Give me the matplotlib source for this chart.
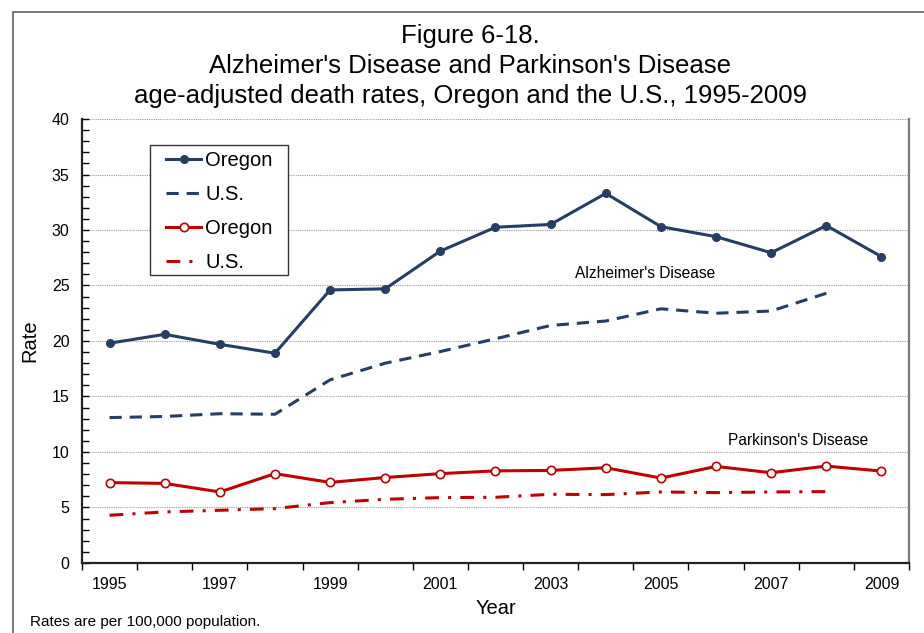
import matplotlib
matplotlib.use('Agg')
import matplotlib.pyplot as plt
from matplotlib.patches import Rectangle
from matplotlib.ticker import MultipleLocator, FixedLocator


plt.rcParams['font.family'] = ['Liberation Sans', 'DejaVu Sans']

YEARS = list(range(1995, 2010))
YEARS_US = list(range(1995, 2009))

ALZ_OREGON = [19.8, 20.6, 19.7, 18.9, 24.6, 24.7, 28.1, 30.25, 30.5, 33.3,
        30.3, 29.4, 27.95, 30.4, 27.6]
ALZ_US = [13.1, 13.2, 13.45, 13.4, 16.5, 18.0, 19.05, 20.2, 21.4, 21.8,
        22.9, 22.5, 22.7, 24.3]
PARK_OREGON = [7.24, 7.17, 6.4, 8.05, 7.26, 7.7, 8.05, 8.3, 8.34, 8.58,
        7.65, 8.7, 8.13, 8.73, 8.28]
PARK_US = [4.3, 4.6, 4.75, 4.9, 5.44, 5.74, 5.89, 5.92, 6.19, 6.16,
        6.4, 6.34, 6.4, 6.43]

TICK_LABELS = ['1995', '1997', '1999', '2001', '2003', '2005', '2007', '2009']

NAVY = '#243F63'
RED = '#C00000'
W, H = 924, 633


def main():
    fig = plt.figure(figsize=(W / 100, H / 100), dpi=100)
    ax = fig.add_axes([0.0887, 0.1106, 0.8951, 0.7014])

    # outer chart-area frame (cropped at right and bottom)
    fig.patches.append(Rectangle((13 / W, -0.05), 1.0, 1 - 12 / H + 0.05,
            transform=fig.transFigure, fill=False, edgecolor='#6e6e6e',
            linewidth=1.3))

    ax.plot(YEARS, ALZ_OREGON, color=NAVY, lw=2.2, marker='o', ms=5.5,
            mfc=NAVY, mec=NAVY, label='Oregon', zorder=4)
    ax.plot(YEARS_US, ALZ_US, color=NAVY, lw=2.2, dashes=(4, 2.6),
            label='U.S.', zorder=3)
    ax.plot(YEARS, PARK_OREGON, color=RED, lw=2.2, marker='o', ms=6,
            mfc='white', mec=RED, mew=1.2, label='Oregon', zorder=4)
    ax.plot(YEARS_US, PARK_US, color=RED, lw=2.2, dashes=(4.5, 3, 1, 3),
            label='U.S.', zorder=3)

    ax.set_xlim(1994.5, 2009.5)
    ax.set_ylim(0, 40)

    ax.yaxis.set_major_locator(MultipleLocator(5))
    ax.yaxis.set_minor_locator(MultipleLocator(1))
    ax.tick_params(axis='y', which='both', direction='in', length=5,
            width=1, labelsize=11.5, pad=9, colors='black')
    ax.grid(axis='y', which='major', color='#9a9a9a', linestyle=(0, (1, 1)),
            linewidth=0.8)

    ax.xaxis.set_major_locator(FixedLocator(range(1995, 2010, 2)))
    ax.set_xticklabels(TICK_LABELS)
    ax.xaxis.set_minor_locator(FixedLocator([y + 0.5 for y in range(1994, 2010)]))
    ax.tick_params(axis='x', which='major', length=0, labelsize=11.5, pad=10)
    ax.tick_params(axis='x', which='minor', direction='out', length=5, width=1)

    for side in ['left', 'bottom']:
        ax.spines[side].set_color('#222222')
        ax.spines[side].set_linewidth(1.6)
    ax.spines['right'].set_color('#7a7a7a')
    ax.spines['right'].set_linewidth(1.6)
    ax.spines['top'].set_visible(False)

    ax.set_ylabel('Rate', fontsize=14.5, labelpad=9)
    ax.set_xlabel('Year', fontsize=14.5, labelpad=5)

    fig.text(0.509, 1 - 36 / H, 'Figure 6-18.', ha='center', va='center',
            fontsize=18.5)
    fig.text(0.509, 1 - 66 / H, "Alzheimer's Disease and Parkinson's Disease",
            ha='center', va='center', fontsize=18.5)
    fig.text(0.509, 1 - 96 / H,
            'age-adjusted death rates, Oregon and the U.S., 1995-2009',
            ha='center', va='center', fontsize=18.5)

    ax.text(2004.71, 26.1, "Alzheimer's Disease", ha='center', va='center',
            fontsize=11.2)
    ax.text(2007.49, 11.0, "Parkinson's Disease", ha='center', va='center',
            fontsize=11.2)

    fig.text(30 / W, 1 - 622 / H, 'Rates are per 100,000 population.',
            ha='left', va='center', fontsize=11)

    # legend box drawn by hand, entries placed inside it
    ax.add_patch(Rectangle((150 / W, 1 - 275 / H), 138 / W, 130 / H,
            transform=fig.transFigure, facecolor='white', edgecolor='#333333',
            linewidth=1.0, zorder=5, clip_on=False))
    leg = ax.legend(loc='upper left', bbox_to_anchor=(166 / W, 1 - 151 / H),
            bbox_transform=fig.transFigure, borderaxespad=0, borderpad=0,
            fontsize=14.5, frameon=False, handlelength=1.75,
            handletextpad=0.2, labelspacing=0.74)
    leg.set_zorder(6)

    plt.savefig('out.png', dpi=100)


if __name__ == '__main__':
    main()
